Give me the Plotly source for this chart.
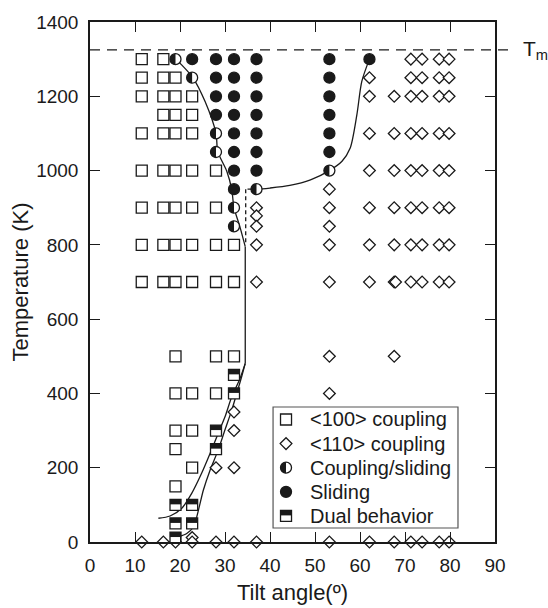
import plotly.graph_objects as go

# ---------------- data ----------------
coupling100_angle = [11.5, 16.3,
                     11.5, 16.3, 19.0,
                     11.5, 16.3, 19.0, 22.7,
                     16.3, 19.0, 22.7,
                     11.5, 16.3, 19.0, 22.7,
                     11.5, 16.3, 19.0, 22.7, 28.0,
                     11.5, 16.3, 19.0, 22.7, 28.0,
                     11.5, 16.3, 19.0, 22.7, 28.0, 32.0,
                     11.5, 16.3, 19.0, 22.7, 28.0, 32.0,
                     19.0, 28.0, 32.0,
                     19.0, 22.7, 28.0,
                     19.0, 22.7,
                     19.0,
                     22.7,
                     19.0]
coupling100_temp = [1300, 1300,
                    1250, 1250, 1250,
                    1200, 1200, 1200, 1200,
                    1150, 1150, 1150,
                    1100, 1100, 1100, 1100,
                    1000, 1000, 1000, 1000, 1000,
                    900, 900, 900, 900, 900,
                    800, 800, 800, 800, 800, 800,
                    700, 700, 700, 700, 700, 700,
                    500, 500, 500,
                    400, 400, 400,
                    300, 300,
                    250,
                    200,
                    150]

coupling110_angle = [71.3, 73.8, 77.6, 79.8,
                     62.1, 71.3, 73.8, 77.6, 79.8,
                     62.1, 67.6, 71.3, 73.8, 77.6, 79.8,
                     62.1, 67.6, 71.3, 73.8, 77.6, 79.8,
                     62.1, 67.6, 71.3, 73.8, 77.6, 79.8,
                     53.2,
                     37.0, 53.2, 62.1, 67.6, 71.3, 73.8, 77.6, 79.8,
                     37.0,
                     37.0, 53.2,
                     37.0, 53.2, 62.1, 67.6, 71.3, 73.8, 77.6, 79.8,
                     37.0, 53.2, 62.1, 67.6, 67.9, 71.3, 73.8, 77.6, 79.8,
                     53.2, 67.6,
                     53.2,
                     32.0,
                     32.0,
                     28.0, 32.0,
                     22.7,
                     11.5, 16.3, 19.0, 22.7, 28.0, 32.0, 37.0, 53.2, 62.1, 67.6, 71.3, 73.8, 77.6, 79.8]
coupling110_temp = [1300, 1300, 1300, 1300,
                    1250, 1250, 1250, 1250, 1250,
                    1200, 1200, 1200, 1200, 1200, 1200,
                    1100, 1100, 1100, 1100, 1100, 1100,
                    1000, 1000, 1000, 1000, 1000, 1000,
                    950,
                    900, 900, 900, 900, 900, 900, 900, 900,
                    878,
                    850, 850,
                    800, 800, 800, 800, 800, 800, 800, 800,
                    700, 700, 700, 700, 700, 700, 700, 700, 700,
                    500, 500,
                    400,
                    350,
                    300,
                    200, 200,
                    12,
                    0, 0, 0, 0, 0, 0, 0, 0, 0, 0, 0, 0, 0, 0]

coupsliding_angle = [19.0, 22.7, 28.0, 28.0, 37.0, 53.2, 32.0, 32.0]
coupsliding_temp = [1300, 1250, 1100, 1050, 950, 1000, 900, 850]

sliding_angle = [22.7, 28.0, 32.0, 37.0, 53.2, 62.1,
                 28.0, 32.0, 37.0, 53.2,
                 28.0, 32.0, 37.0, 53.2,
                 28.0, 32.0, 37.0, 53.2,
                 32.0, 37.0, 53.2,
                 32.0, 37.0, 53.2,
                 32.0, 37.0,
                 32.0]
sliding_temp = [1300, 1300, 1300, 1300, 1300, 1300,
                1250, 1250, 1250, 1250,
                1200, 1200, 1200, 1200,
                1150, 1150, 1150, 1150,
                1100, 1100, 1100,
                1050, 1050, 1050,
                1000, 1000,
                950]

dual_angle = [32.0, 32.0, 28.0, 28.0, 19.0, 22.7, 19.0, 22.7, 19.0]
dual_temp = [450, 400, 300, 250, 100, 100, 50, 50, 12]

# boundary curves
upper_bound_angle = [19.1, 22.8, 25.6, 28.0, 28.4, 30.4, 31.5, 32.0, 33.3, 34.5]
upper_bound_temp = [1300, 1251, 1185, 1100, 1051, 998, 949, 900, 849, 795]

vertical_bound_angle = [34.5, 34.5]
vertical_bound_temp = [795, 481]

lowerA_angle = [34.5, 33.2, 31.5, 30.0, 28.5, 26.7, 24.8, 22.6, 20.4, 17.8, 15.2]
lowerA_temp = [481, 436, 391, 337, 293, 239, 185, 131, 91, 70, 64]

lowerB_angle = [34.5, 33.7, 32.6, 31.5, 30.0, 28.5, 26.7, 25.2, 24.1, 23.0, 21.5, 19.6]
lowerB_temp = [481, 445, 400, 355, 302, 248, 194, 140, 86, 41, 23, 14]

right_bound_angle = [35.0, 37.0, 40.0, 44.4, 49.0, 53.2, 56.0, 57.8, 59.3, 60.4, 62.1]
right_bound_temp = [950, 950, 953, 960, 975, 1000, 1025, 1060, 1150, 1240, 1300]

dashed_bound_angle = [34.6, 34.6]
dashed_bound_temp = [950, 800]

T_melt = 1325

legend_labels = ["<100> coupling", "<110> coupling", "Coupling/sliding", "Sliding", "Dual behavior"]

# ---------------- figure ----------------
INK = "#1a1a1a"
FONT = "Liberation Sans, Arial, sans-serif"
MS = 11
LW = 1.3

fig = go.Figure()

def line_trace(x, y, shape="spline", dash="solid"):
    fig.add_trace(go.Scatter(x=x, y=y, mode="lines",
                             line=dict(color=INK, width=1.3, shape=shape, dash=dash, smoothing=0.8),
                             hoverinfo="skip", cliponaxis=False))

line_trace(upper_bound_angle, upper_bound_temp)
line_trace(vertical_bound_angle, vertical_bound_temp, shape="linear")
line_trace(lowerA_angle, lowerA_temp)
line_trace(lowerB_angle, lowerB_temp)
line_trace(right_bound_angle, right_bound_temp)
line_trace(dashed_bound_angle, dashed_bound_temp, shape="linear", dash="4px,3px")

def pts(x, y, symbol, size, filled=False, xa="x", ya="y"):
    fig.add_trace(go.Scatter(
        x=x, y=y, mode="markers", xaxis=xa, yaxis=ya, cliponaxis=False,
        marker=dict(symbol=symbol, size=size,
                    color=INK if filled else "white",
                    line=dict(color=INK, width=LW))))

pts(coupling100_angle, coupling100_temp, "square", MS)
pts(coupling110_angle, coupling110_temp, "diamond", 9)
pts(coupsliding_angle, coupsliding_temp, "circle", MS)
pts(sliding_angle, sliding_temp, "circle", MS, filled=True)
pts(dual_angle, dual_temp, "square", MS)

r = MS / 2.0
k = 0.5523 * r
half_circle_path = (f"M0,{r} C{-k},{r} {-r},{k} {-r},0 "
                    f"C{-r},{-k} {-k},{-r} 0,{-r} Z")
top_half_path = f"M{-r},0.5 L{r},0.5 L{r},{r} L{-r},{r} Z"

shapes = []

def glyph(xv, yv, path, xref="x", yref="y"):
    shapes.append(dict(type="path", xref=xref, yref=yref,
                       xsizemode="pixel", ysizemode="pixel",
                       xanchor=xv, yanchor=yv, path=path,
                       fillcolor=INK, line=dict(width=0), layer="above"))

for xv, yv in zip(coupsliding_angle, coupsliding_temp):
    glyph(xv, yv, half_circle_path)
for xv, yv in zip(dual_angle, dual_temp):
    glyph(xv, yv, top_half_path)

# melting temperature line
shapes.append(dict(type="line", xref="paper", yref="y", x0=0, x1=1.044,
                   y0=T_melt, y1=T_melt, line=dict(color=INK, width=1.2, dash="10px,7px"),
                   layer="above"))

# legend (drawn manually, in paper fractions of the plot area)
leg_x0, leg_x1, leg_y0, leg_y1 = 0.452, 0.9086, 0.0269, 0.2596
shapes.append(dict(type="rect", xref="paper", yref="paper",
                   x0=leg_x0, x1=leg_x1, y0=leg_y0, y1=leg_y1,
                   line=dict(color="#555", width=1.2), fillcolor="white", layer="below"))
leg_mx = 0.484
leg_tx = 0.5383
leg_rows = [0.2356, 0.1892, 0.1429, 0.0965, 0.0502]

pts([leg_mx], [leg_rows[0]], "square", MS, xa="x2", ya="y2")
pts([leg_mx], [leg_rows[1]], "diamond", 9, xa="x2", ya="y2")
pts([leg_mx], [leg_rows[2]], "circle", MS, xa="x2", ya="y2")
pts([leg_mx], [leg_rows[3]], "circle", MS, filled=True, xa="x2", ya="y2")
pts([leg_mx], [leg_rows[4]], "square", MS, xa="x2", ya="y2")
glyph(leg_mx, leg_rows[2], half_circle_path, xref="x2", yref="y2")
glyph(leg_mx, leg_rows[4], top_half_path, xref="x2", yref="y2")

annotations = []
for lab, yy in zip(legend_labels, leg_rows):
    annotations.append(dict(text=lab.replace("<", "&lt;").replace(">", "&gt;"),
                            x=leg_tx, y=yy, xref="paper", yref="paper",
                            xanchor="left", yanchor="middle", showarrow=False,
                            font=dict(size=20, color=INK, family=FONT)))
annotations.append(dict(text="T<sub>m</sub>", x=1.065, y=T_melt, xref="paper", yref="y",
                        xanchor="left", yanchor="middle", showarrow=False,
                        font=dict(size=21, color=INK, family=FONT)))

axis_common = dict(showline=True, linecolor=INK, linewidth=1.5, mirror="ticks",
                   ticks="inside", ticklen=10, tickwidth=1.2, tickcolor=INK,
                   showgrid=False, zeroline=False, automargin=False,
                   tickfont=dict(size=19, color=INK, family=FONT))

fig.update_layout(
    width=548, height=608,
    margin=dict(l=90, r=53, t=22, b=66),
    paper_bgcolor="white", plot_bgcolor="white",
    showlegend=False,
    font=dict(family=FONT, color=INK),
    xaxis=dict(range=[0, 90], dtick=10, tick0=0, ticklabelstandoff=5,
               title=dict(text="Tilt angle(º)", font=dict(size=22, color=INK, family=FONT), standoff=10),
               **axis_common),
    yaxis=dict(range=[0, 1400], dtick=200, tick0=0, ticklabelstandoff=6,
               title=dict(text="Temperature (K)", font=dict(size=22, color=INK, family=FONT), standoff=1),
               **axis_common),
    xaxis2=dict(overlaying="x", range=[0, 1], visible=False),
    yaxis2=dict(overlaying="y", range=[0, 1], visible=False),
    shapes=shapes,
    annotations=annotations,
)

fig.write_html("out.html")
